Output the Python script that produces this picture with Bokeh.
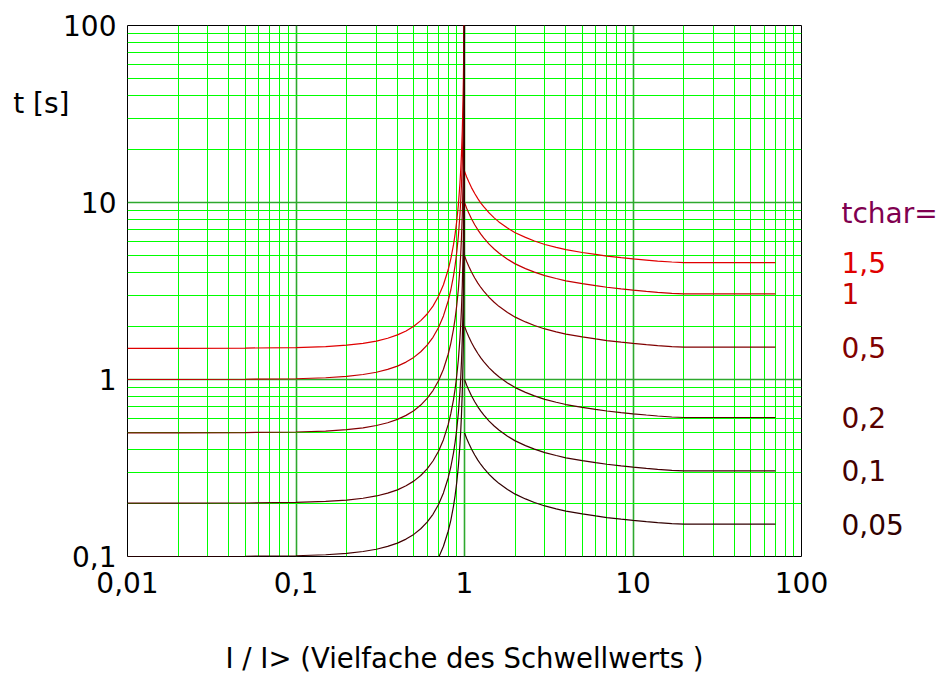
from bokeh.plotting import figure
from bokeh.layouts import row
from bokeh.models import Range1d, FixedTicker, CustomJSTickFormatter, LogAxis
from bokeh.core.properties import value
from bokeh.embed import file_html
from bokeh.resources import INLINE
import json

# ---- data ----
tchar_labels = ["1,5", "1", "0,5", "0,2", "0,1", "0,05"]
curve_colors = ["#e00000", "#c40000", "#800000", "#580000", "#420000", "#300000"]
header_text = "tchar="
header_color = "#800050"
header_y = 8.7
y_title = "t [s]"
y_title_at = 36.3
x_title = "I / I> (Vielfache des Schwellwerts )"

x_ticks = [0.01, 0.1, 1, 10, 100]
y_ticks = [0.1, 1, 10, 100]

# left branch (I/I> below 1)
x_left = [0.01, 0.02, 0.05, 0.1, 0.15, 0.2, 0.25, 0.3, 0.35, 0.4, 0.45, 0.5, 0.55, 0.6, 0.65,
          0.7, 0.75, 0.8, 0.83, 0.86, 0.88, 0.9, 0.92, 0.94, 0.95, 0.96, 0.97, 0.98, 0.985,
          0.99, 0.995, 0.998, 0.999, 0.9999]
t15_left = [1.5, 1.5, 1.505, 1.515, 1.535, 1.563, 1.6, 1.648, 1.71, 1.786, 1.881, 2.0, 2.151,
            2.344, 2.598, 2.941, 3.429, 4.167, 4.821, 5.76, 6.65, 7.895, 9.765, 12.89, 15.39,
            19.14, 25.38, 37.88, 50.38, 75.38, 150.4, 375.4, 750, 7500]
t1_left = [1.0, 1.0, 1.003, 1.01, 1.023, 1.042, 1.067, 1.099, 1.14, 1.19, 1.254, 1.333, 1.434,
           1.563, 1.732, 1.961, 2.286, 2.778, 3.214, 3.84, 4.433, 5.263, 6.51, 8.591, 10.26,
           12.76, 16.92, 25.25, 33.59, 50.25, 100.3, 250.3, 500, 5000]
t05_left = [0.5, 0.5, 0.5015, 0.505, 0.5115, 0.521, 0.5335, 0.5495, 0.57, 0.595, 0.627, 0.6665,
            0.717, 0.7815, 0.866, 0.9805, 1.143, 1.389, 1.607, 1.92, 2.217, 2.632, 3.255, 4.296,
            5.13, 6.38, 8.46, 12.63, 16.8, 25.13, 50.15, 125.2, 250, 2500]
t02_left = [0.2, 0.2, 0.2006, 0.202, 0.2046, 0.2084, 0.2134, 0.2198, 0.228, 0.238, 0.2508,
            0.2666, 0.2868, 0.3126, 0.3464, 0.3922, 0.4572, 0.5556, 0.6428, 0.768, 0.8866,
            1.053, 1.302, 1.718, 2.052, 2.552, 3.384, 5.05, 6.718, 10.05, 20.06, 50.06, 100, 1000]
t01_left = [0.1, 0.1, 0.1003, 0.101, 0.1023, 0.1042, 0.1067, 0.1099, 0.114, 0.119, 0.1254,
            0.1333, 0.1434, 0.1563, 0.1732, 0.1961, 0.2286, 0.2778, 0.3214, 0.384, 0.4433,
            0.5263, 0.651, 0.8591, 1.026, 1.276, 1.692, 2.525, 3.359, 5.025, 10.03, 25.03, 50, 500]
t005_left = [0.05, 0.05, 0.05015, 0.0505, 0.05115, 0.0521, 0.05335, 0.05495, 0.057, 0.0595,
             0.0627, 0.06665, 0.0717, 0.07815, 0.0866, 0.09805, 0.1143, 0.1389, 0.1607, 0.192,
             0.2217, 0.2632, 0.3255, 0.4296, 0.513, 0.638, 0.846, 1.263, 1.68, 2.513, 5.015,
             12.52, 25, 250]

# right branch (I/I> above 1)
x_right = [1.0, 1.03, 1.06, 1.1, 1.15, 1.2, 1.25, 1.3, 1.4, 1.5, 1.6, 1.8, 2.0, 2.3, 2.6, 3.0,
           3.5, 4.0, 5.0, 6.0, 7.0, 8.5, 10, 12, 14, 17, 20, 70]
t15_right = [15.0, 13.94, 13.08, 12.14, 11.24, 10.52, 9.93, 9.47, 8.73, 8.19, 7.77, 7.17, 6.75,
             6.35, 6.06, 5.79, 5.58, 5.42, 5.22, 5.09, 4.98, 4.88, 4.8, 4.73, 4.67, 4.61, 4.58,
             4.58]
t1_right = [10.0, 9.29, 8.72, 8.09, 7.49, 7.01, 6.62, 6.31, 5.82, 5.46, 5.18, 4.78, 4.50, 4.23,
            4.04, 3.86, 3.72, 3.61, 3.48, 3.39, 3.32, 3.25, 3.2, 3.15, 3.11, 3.07, 3.05, 3.05]
t05_right = [5.0, 4.645, 4.36, 4.045, 3.745, 3.505, 3.31, 3.155, 2.91, 2.73, 2.59, 2.39, 2.25,
             2.115, 2.02, 1.93, 1.86, 1.805, 1.74, 1.695, 1.66, 1.625, 1.6, 1.575, 1.555, 1.535,
             1.525, 1.525]
t02_right = [2.0, 1.858, 1.744, 1.618, 1.498, 1.402, 1.324, 1.262, 1.164, 1.092, 1.036, 0.956,
             0.9, 0.846, 0.808, 0.772, 0.744, 0.722, 0.696, 0.678, 0.664, 0.65, 0.64, 0.63,
             0.622, 0.614, 0.61, 0.61]
t01_right = [1.0, 0.929, 0.872, 0.809, 0.749, 0.701, 0.662, 0.631, 0.582, 0.546, 0.518, 0.478,
             0.45, 0.423, 0.404, 0.386, 0.372, 0.361, 0.348, 0.339, 0.332, 0.325, 0.32, 0.315,
             0.311, 0.307, 0.305, 0.305]
t005_right = [0.5, 0.4645, 0.436, 0.4045, 0.3745, 0.3505, 0.331, 0.3155, 0.291, 0.273, 0.259,
              0.239, 0.225, 0.2115, 0.202, 0.193, 0.186, 0.1805, 0.174, 0.1695, 0.166, 0.1625,
              0.16, 0.1575, 0.1555, 0.1535, 0.1525, 0.1525]

left_series = [t15_left, t1_left, t05_left, t02_left, t01_left, t005_left]
right_series = [t15_right, t1_right, t05_right, t02_right, t01_right, t005_right]

FONT = "DejaVu Sans"
FS = "28px"
H = 680
TOP, BOTTOM = 25, 124

# ---------------- main chart ----------------
p = figure(width=841, height=H, x_axis_type="log", y_axis_type="log",
           x_range=Range1d(0.01, 100), y_range=Range1d(0.1, 100),
           output_backend="svg", toolbar_location=None,
           min_border_left=127, min_border_right=40, min_border_top=TOP,
           min_border_bottom=BOTTOM)
p.background_fill_color = "white"
p.border_fill_color = "white"
p.outline_line_color = "black"
p.outline_line_width = 1


def minor(ticks):
    out = []
    for t in ticks[:-1]:
        out += [t * k for k in range(2, 10)]
    return out


p.xaxis.ticker = FixedTicker(ticks=x_ticks, minor_ticks=minor(x_ticks))
p.yaxis.ticker = FixedTicker(ticks=y_ticks, minor_ticks=minor(y_ticks))
fmt = CustomJSTickFormatter(code="return tick.toString().replace('.', ',');")
p.xaxis.formatter = fmt
p.yaxis.formatter = fmt

# y title "t [s]" as a second (label-only) left axis
title_axis = LogAxis(ticker=FixedTicker(ticks=[y_title_at], minor_ticks=[]),
                     formatter=CustomJSTickFormatter(code="return %s;" % json.dumps(y_title)))
p.add_layout(title_axis, "left")

for ax in list(p.xaxis) + list(p.yaxis):
    ax.major_tick_line_color = None
    ax.minor_tick_line_color = None
    ax.major_tick_out = 0
    ax.major_tick_in = 0
    ax.minor_tick_out = 0
    ax.minor_tick_in = 0
    ax.axis_line_color = None
    ax.major_label_text_font = FONT
    ax.major_label_text_font_size = FS
    ax.major_label_text_color = "black"
p.yaxis[0].major_label_standoff = 11
title_axis.major_label_standoff = -9
p.xaxis.major_label_standoff = 15

p.xaxis.axis_label = x_title
p.xaxis.axis_label_text_font = FONT
p.xaxis.axis_label_text_font_size = "27.5px"
p.xaxis.axis_label_text_font_style = "normal"
p.xaxis.axis_label_text_color = "black"
p.xaxis.axis_label_standoff = 46

for g in (p.xgrid, p.ygrid):
    g.grid_line_color = "#2ea82e"
    g.grid_line_width = 1.6
    g.minor_grid_line_color = "#00ff00"
    g.minor_grid_line_width = 1

for yl, yr, c in zip(left_series, right_series, curve_colors):
    p.line(x_left, yl, line_color=c, line_width=1.2)
    p.line(x_right, yr, line_color=c, line_width=1.2)

# ---------------- right-hand labels ----------------
q = figure(width=99, height=H, x_range=Range1d(0, 99), y_range=p.y_range, y_axis_type="log",
           x_axis_location=None, y_axis_location=None, output_backend="svg",
           toolbar_location=None, min_border_left=0, min_border_right=0,
           min_border_top=TOP, min_border_bottom=BOTTOM)
q.outline_line_color = None
q.grid.visible = False
q.background_fill_color = "white"
q.border_fill_color = "white"

label_text = [header_text] + tchar_labels
label_y = [header_y] + [s[-1] for s in right_series]
label_color = [header_color] + curve_colors
q.text(x=[0] * len(label_text), y=label_y, text=label_text, text_color=label_color,
       text_font=value(FONT), text_font_size="28px", text_baseline="middle",
       text_align="left")

layout = row(p, q)
open("out.html", "w").write(file_html(layout, INLINE))
